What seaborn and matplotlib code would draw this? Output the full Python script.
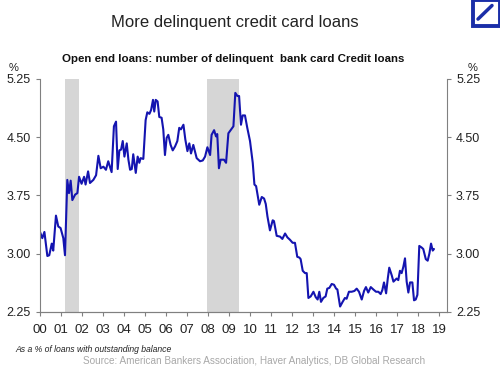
import numpy as np
import pandas as pd
import seaborn as sns
import matplotlib.pyplot as plt
from matplotlib.patches import Rectangle

# decimal years since 2000 and delinquency rate (%)
years = [
    0.00, 0.11, 0.21, 0.35, 0.44, 0.56, 0.63, 0.76, 0.87, 0.98, 1.11, 1.19, 1.30, 1.38,
    1.46, 1.54, 1.67, 1.78, 1.86, 1.98, 2.10, 2.17, 2.29, 2.38, 2.54, 2.67, 2.78, 2.89,
    3.02, 3.14, 3.25, 3.41, 3.52, 3.62, 3.70, 3.78, 3.86, 3.94, 4.02, 4.13, 4.21, 4.29,
    4.37, 4.44, 4.56, 4.65, 4.73, 4.79, 4.92, 5.03, 5.11, 5.21, 5.29, 5.38, 5.44, 5.51,
    5.60, 5.68, 5.79, 5.87, 5.95, 6.03, 6.11, 6.22, 6.32, 6.43, 6.54, 6.63, 6.71, 6.83,
    6.92, 7.02, 7.11, 7.19, 7.30, 7.46, 7.62, 7.75, 7.86, 7.97, 8.10, 8.17, 8.29, 8.38,
    8.44, 8.52, 8.60, 8.76, 8.86, 8.97, 9.10, 9.21, 9.30, 9.40, 9.48, 9.57, 9.65, 9.76,
    9.87, 10.00, 10.13, 10.21, 10.29, 10.44, 10.56, 10.67, 10.75, 10.83, 10.95, 11.08,
    11.14, 11.27, 11.43, 11.54, 11.67, 11.78, 11.90, 12.03, 12.14, 12.25, 12.35, 12.41,
    12.51, 12.62, 12.70, 12.78, 12.89, 13.02, 13.13, 13.22, 13.30, 13.38, 13.49, 13.60,
    13.68, 13.78, 13.89, 14.00, 14.10, 14.16, 14.29, 14.41, 14.52, 14.60, 14.71, 14.84,
    14.97, 15.08, 15.19, 15.32, 15.43, 15.52, 15.63, 15.75, 15.87, 16.00, 16.11, 16.22,
    16.30, 16.38, 16.48, 16.56, 16.63, 16.75, 16.83, 16.98, 17.06, 17.14, 17.22, 17.30,
    17.38, 17.46, 17.54, 17.62, 17.73, 17.81, 17.89, 17.97, 18.06, 18.17, 18.25, 18.37,
    18.46, 18.54, 18.62, 18.70, 18.76,
]
rates = [
    3.28, 3.20, 3.28, 2.97, 2.98, 3.13, 3.04, 3.49, 3.35, 3.33, 3.20, 2.98, 3.95, 3.78,
    3.94, 3.69, 3.76, 3.78, 3.99, 3.90, 3.99, 3.89, 4.06, 3.91, 3.95, 4.01, 4.26, 4.10,
    4.12, 4.08, 4.19, 4.05, 4.64, 4.70, 4.09, 4.33, 4.34, 4.45, 4.25, 4.42, 4.21, 4.08,
    4.09, 4.28, 4.04, 4.25, 4.17, 4.23, 4.22, 4.72, 4.82, 4.80, 4.85, 4.98, 4.83, 4.98,
    4.96, 4.76, 4.75, 4.60, 4.27, 4.49, 4.53, 4.40, 4.33, 4.38, 4.45, 4.62, 4.60, 4.66,
    4.47, 4.32, 4.42, 4.29, 4.40, 4.23, 4.19, 4.20, 4.25, 4.37, 4.27, 4.53, 4.59, 4.51,
    4.54, 4.10, 4.21, 4.21, 4.17, 4.55, 4.60, 4.64, 5.07, 5.03, 5.03, 4.66, 4.78, 4.78,
    4.62, 4.45, 4.17, 3.89, 3.87, 3.63, 3.73, 3.71, 3.64, 3.48, 3.30, 3.43,
    3.42, 3.23, 3.22, 3.19, 3.26, 3.21, 3.18, 3.14, 3.14, 2.96, 2.95, 2.93,
    2.78, 2.75, 2.75, 2.43, 2.45, 2.51, 2.44, 2.41, 2.51, 2.38, 2.43, 2.45,
    2.55, 2.56, 2.61, 2.60, 2.55, 2.54, 2.32, 2.38, 2.43, 2.42, 2.51, 2.51,
    2.52, 2.55, 2.51, 2.41, 2.52, 2.57, 2.50, 2.57, 2.54, 2.51, 2.51, 2.48,
    2.53, 2.63, 2.49, 2.68, 2.82, 2.72, 2.64, 2.68, 2.66, 2.78, 2.75, 2.83,
    2.94, 2.64, 2.50, 2.63, 2.63, 2.40, 2.41, 2.47, 3.10, 3.08, 3.06, 2.93,
    2.91, 3.00, 3.13, 3.04, 3.06,
]
recessions = [(1.17, 1.87), (7.95, 9.49)]
yticks = [2.25, 3.00, 3.75, 4.50, 5.25]
year_labels = [f"{y:02d}" for y in range(0, 20)]

df = pd.DataFrame({"year": years, "rate": rates})

sns.set_style("ticks")
plt.rcParams["font.family"] = ["Liberation Sans", "DejaVu Sans"]

fig = plt.figure(figsize=(5, 3.67), dpi=100)
ax = fig.add_axes([0.08, 0.15, 0.814, 0.635])

for a, b in recessions:
    ax.axvspan(a, b, color="#d6d6d6", lw=0, zorder=0)

sns.lineplot(data=df, x="year", y="rate", ax=ax, color="#1414b0", lw=1.5)

ax.set_xlim(0, 19.38)
ax.set_ylim(2.25, 5.25)
ax.set_xticks(range(0, 20))
ax.set_xticklabels(year_labels)
ax.set_yticks(yticks)
ax.set_yticklabels([f"{v:.2f}" for v in yticks])
ax.set_xlabel("")
ax.set_ylabel("")

ax2 = ax.twinx()
ax2.set_ylim(ax.get_ylim())
ax2.set_yticks(yticks)
ax2.set_yticklabels([f"{v:.2f}" for v in yticks])

for a in (ax, ax2):
    a.spines["top"].set_visible(False)
    for s in a.spines.values():
        s.set_color("#808080")
        s.set_linewidth(0.8)
    a.tick_params(colors="#808080", labelcolor="#222222", labelsize=9,
                  length=3, width=0.8)
ax.tick_params(axis="x", labelsize=9.5, pad=6)
ax2.spines["left"].set_visible(False)
ax.spines["right"].set_visible(False)

fig.text(0.47, 0.94, "More delinquent credit card loans", ha="center",
         va="center", fontsize=12, color="#222222")
fig.text(0.467, 0.838, "Open end loans: number of delinquent  bank card Credit loans",
         ha="center", va="center", fontsize=8.25, fontweight="bold", color="#111111")
fig.text(0.028, 0.815, "%", ha="center", va="center", fontsize=8, color="#222222")
fig.text(0.946, 0.815, "%", ha="center", va="center", fontsize=8, color="#222222")
fig.text(0.03, 0.047, "As a % of loans with outstanding balance", fontsize=6.2,
         style="italic", color="#222222", va="center")
fig.text(0.508, 0.016, "Source: American Bankers Association, Haver Analytics, DB Global Research",
         ha="center", va="center", fontsize=7.2, color="#a8a8a8")

# logo box in the top right corner
fig.patches.append(Rectangle((0.946, 0.93), 0.054, 0.07, transform=fig.transFigure,
                             facecolor="white", edgecolor="#1a2ea8", lw=2.8))
fig.lines.append(plt.Line2D([0.956, 0.984], [0.948, 0.985], transform=fig.transFigure,
                            color="#1a2ea8", lw=2.5))

fig.savefig("out.png", dpi=100)
